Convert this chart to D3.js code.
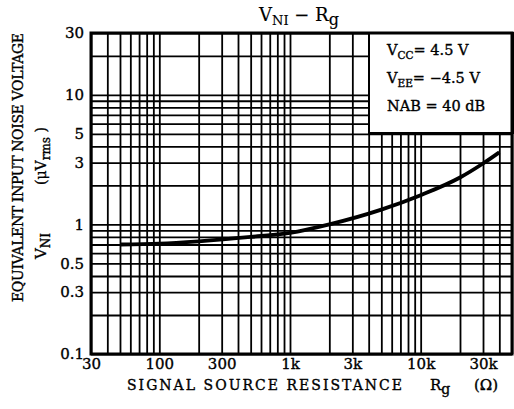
<!DOCTYPE html>
<html>
<head>
<meta charset="utf-8">
<script src="https://cdn.jsdelivr.net/npm/d3@7"></script>
<style>
  body { margin: 0; background: #fff; }
  svg { display: block; }
  text { font-family: "DejaVu Serif", "Liberation Serif", serif; fill: #000; stroke: #000; stroke-width: 0.35px; }
</style>
</head>
<body>
<svg id="chart"></svg>
<script>
// signal source resistance (ohm) and equivalent input noise voltage (uVrms)
const rg = [50, 100, 200, 500, 1000, 2000, 5000, 10000, 20000, 30000, 40000];
const vni = [0.70, 0.71, 0.74, 0.80, 0.86, 1.0, 1.3, 1.68, 2.3, 2.95, 3.6];

const xDomain = [30, 50000];
const yDomain = [0.1, 30];
const xTickValues = [30, 100, 300, 1000, 3000, 10000, 30000];
const xTickLabels = ['30', '100', '300', '1k', '3k', '10k', '30k'];
const yTickValues = [0.1, 0.3, 0.5, 1, 3, 5, 10, 30];
const yTickLabels = ['0.1', '0.3', '0.5', '1', '3', '5', '10', '30'];

const config = {
  width: 514,
  height: 409,
  margin: {top: 33, right: 2, bottom: 55, left: 91}
};

const w = config.width - config.margin.left - config.margin.right;
const h = config.height - config.margin.top - config.margin.bottom;

const svg = d3.select('#chart')
    .attr('width', config.width)
    .attr('height', config.height);

const chart = svg.append('g')
    .attr('transform', `translate(${config.margin.left},${config.margin.top})`);

const x = d3.scaleLog().domain(xDomain).range([0, w]);
const y = d3.scaleLog().domain(yDomain).range([h, 0]);

// grid lines at every 1..9 multiple
chart.append('g')
    .attr('transform', `translate(0,${h})`)
    .call(d3.axisBottom(x).tickValues(x.ticks()).tickSize(-h).tickFormat(''))
    .call(g => g.select('.domain').remove())
    .call(g => g.selectAll('line').attr('stroke', '#000').attr('stroke-width', 1.8));

chart.append('g')
    .call(d3.axisLeft(y).tickValues(y.ticks()).tickSize(-w).tickFormat(''))
    .call(g => g.select('.domain').remove())
    .call(g => g.selectAll('line').attr('stroke', '#000').attr('stroke-width', 1.8));

// curve
const line = d3.line()
    .x((d, i) => x(rg[i]))
    .y(d => y(d))
    .curve(d3.curveMonotoneX);

chart.append('path')
    .datum(vni)
    .attr('d', line)
    .attr('fill', 'none')
    .attr('stroke', '#000')
    .attr('stroke-width', 3.8);

// legend box
const legend = chart.append('g')
    .attr('transform', `translate(${w - 143},0)`);

legend.append('rect')
    .attr('width', 145)
    .attr('height', 100)
    .attr('fill', '#fff')
    .attr('stroke', '#000')
    .attr('stroke-width', 2);

const legendLines = [
  {main: 'V', sub: 'CC', rest: '= 4.5 V'},
  {main: 'V', sub: 'EE', rest: '= \u22124.5 V'},
  {main: 'NAB', sub: '', rest: ' = 40 dB'}
];

legendLines.forEach((d, i) => {
  const t = legend.append('text')
      .attr('x', 18)
      .attr('y', 22 + i * 28)
      .attr('font-size', 14.5);
  t.append('tspan').text(d.main);
  if (d.sub) {
    t.append('tspan').attr('dy', 4).attr('font-size', 10.5).text(d.sub);
    t.append('tspan').attr('dy', -4).text(d.rest);
  } else {
    t.append('tspan').text(d.rest);
  }
});

// frame
chart.append('rect')
    .attr('width', w)
    .attr('height', h)
    .attr('fill', 'none')
    .attr('stroke', '#000')
    .attr('stroke-width', 3);

// tick labels
chart.append('g')
    .attr('transform', `translate(0,${h})`)
    .call(d3.axisBottom(x).tickValues(xTickValues).tickSize(0).tickPadding(4)
      .tickFormat((d, i) => xTickLabels[i]))
    .call(g => g.select('.domain').remove())
    .call(g => g.selectAll('text')
      .attr('font-family', '"DejaVu Serif", serif')
      .attr('font-size', 15));

chart.append('g')
    .call(d3.axisLeft(y).tickValues(yTickValues).tickSize(0).tickPadding(7)
      .tickFormat(d => yTickLabels[yTickValues.indexOf(d)]))
    .call(g => g.select('.domain').remove())
    .call(g => g.selectAll('text')
      .attr('font-family', '"DejaVu Serif", serif')
      .attr('font-size', 15));

// title
const title = svg.append('text')
    .attr('x', 299)
    .attr('y', 21)
    .attr('text-anchor', 'middle')
    .attr('font-size', 18)
    .style('stroke-width', 0.15);
title.append('tspan').text('V');
title.append('tspan').attr('dy', 4).attr('font-size', 13).text('NI');
title.append('tspan').attr('dy', -4).text(' \u2212 R');
title.append('tspan').attr('dy', 4).attr('font-size', 16).text('g');

// x axis title
const xTitle = svg.append('text')
    .attr('x', 127)
    .attr('y', 390)
    .attr('font-size', 14);
xTitle.append('tspan')
    .attr('textLength', 275)
    .attr('lengthAdjust', 'spacing')
    .text('SIGNAL SOURCE RESISTANCE');
xTitle.append('tspan').attr('x', 430).attr('font-size', 15).text('R');
xTitle.append('tspan').attr('dy', 4).attr('font-size', 14).text('g');
xTitle.append('tspan').attr('dy', -4).attr('x', 474).attr('font-size', 15).text('(\u03a9)');

// y axis titles
svg.append('text')
    .attr('transform', 'translate(23,302) rotate(-90)')
    .attr('font-size', 14)
    .attr('textLength', 269)
    .attr('lengthAdjust', 'spacing')
    .text('EQUIVALENT INPUT NOISE VOLTAGE');

const unit = svg.append('text')
    .attr('transform', 'translate(46,156) rotate(-90)')
    .attr('text-anchor', 'middle')
    .attr('font-size', 14);
unit.append('tspan').text('(\u03bcV');
unit.append('tspan').attr('dy', 4).attr('font-size', 12).text('rms');
unit.append('tspan').attr('dy', -4).text(' )');

const vLabel = svg.append('text')
    .attr('transform', 'translate(46,246) rotate(-90)')
    .attr('text-anchor', 'middle')
    .attr('font-size', 15);
vLabel.append('tspan').text('V');
vLabel.append('tspan').attr('dy', 4).attr('font-size', 12).text('NI');
</script>
</body>
</html>
